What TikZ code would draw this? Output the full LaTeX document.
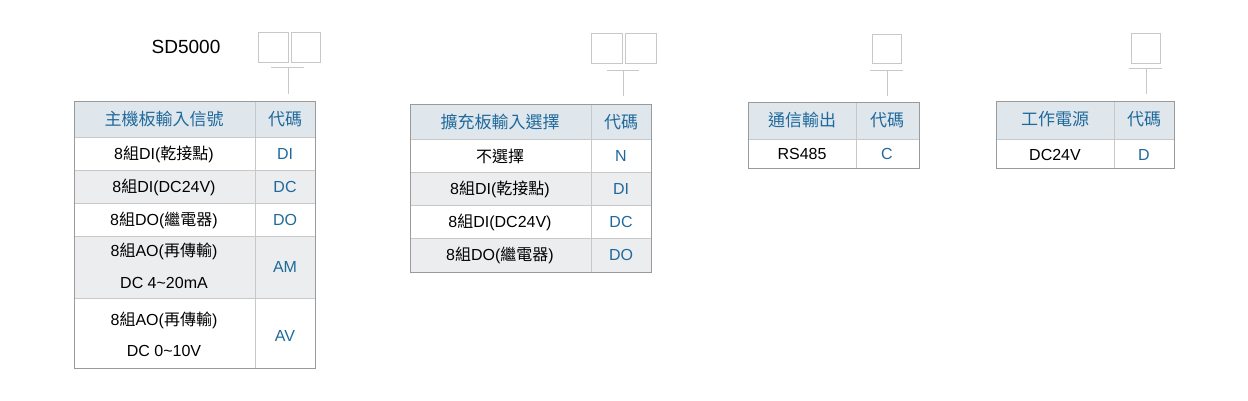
\documentclass[tikz,border=0pt]{standalone}
\usepackage{fontspec}
\setmainfont{Liberation Sans}
\newfontfamily\cjk{Noto Sans CJK TC}
\definecolor{hdr}{HTML}{DFE6EC}
\definecolor{alt}{HTML}{EBEDEF}
\definecolor{bl}{HTML}{1F6A9C}
\definecolor{frame}{HTML}{9A9A9A}
\definecolor{grid}{HTML}{C8C8C8}
\tikzset{
 txt/.style={font=\fontsize{16}{18}\selectfont, text=black, inner sep=0pt},
 htxt/.style={font=\fontsize{17}{19}\selectfont\cjk, text=bl, inner sep=0pt},
 code/.style={font=\fontsize{16}{18}\selectfont, text=bl, inner sep=0pt},
 box/.style={draw=grid, line width=1pt},
 tee/.style={draw=grid, line width=1pt},
 outer/.style={draw=frame, line width=1pt},
 inner/.style={draw=grid, line width=0.8pt},
}
\newcommand{\C}[1]{{\cjk #1}}
\begin{document}
\begin{tikzpicture}[x=1pt,y=-1pt]
\useasboundingbox (0,0) rectangle (1248,400);
% ---- group 1 ----
\node[font=\fontsize{19}{21}\selectfont, inner sep=0pt] (sd) at (186,47) {SD5000};
\draw[box] (258,32) rectangle (288,62);
\draw[box] (291,32) rectangle (320,62);
\draw[tee] (271,67) -- (304,67);
\draw[tee] (288,67) -- (288,94);
\fill[hdr] (74,101) rectangle (315,137);
\fill[alt] (74,170) rectangle (315,203);
\fill[alt] (74,236) rectangle (315,298);
\draw[inner] (74,137) -- (315,137) (74,170) -- (315,170) (74,203) -- (315,203) (74,236) -- (315,236) (74,298) -- (315,298) (255,101) -- (255,368);
\draw[outer] (74,101) rectangle (315,368);
\node[htxt] (a0) at (164,119) {主機板輸入信號};
\node[htxt] (a0c) at (285,119) {代碼};
\node[txt] (a1) at (164,154) {8\C{組}DI(\C{乾接點})};
\node[code] (a1c) at (285,154) {DI};
\node[txt] (a2) at (164,187) {8\C{組}DI(DC24V)};
\node[code] (a2c) at (285,187) {DC};
\node[txt] (a3) at (164,220) {8\C{組}DO(\C{繼電器})};
\node[code] (a3c) at (285,220) {DO};
\node[txt] (a4) at (164,251) {8\C{組}AO(\C{再傳輸})};
\node[txt] (a4b) at (164,283) {DC 4\textasciitilde20mA};
\node[code] (a4c) at (285,267) {AM};
\node[txt] (a5) at (164,320) {8\C{組}AO(\C{再傳輸})};
\node[txt] (a5b) at (164,351) {DC 0\textasciitilde10V};
\node[code] (a5c) at (285,336) {AV};
% ---- group 2 ----
\draw[box] (591,33) rectangle (622,63);
\draw[box] (625,33) rectangle (656,63);
\draw[tee] (607,70) -- (639,70);
\draw[tee] (623,70) -- (623,96);
\fill[hdr] (410,104) rectangle (651,139);
\fill[alt] (410,172) rectangle (651,205);
\fill[alt] (410,238) rectangle (651,272);
\draw[inner] (410,139) -- (651,139) (410,172) -- (651,172) (410,205) -- (651,205) (410,238) -- (651,238) (591,104) -- (591,272);
\draw[outer] (410,104) rectangle (651,272);
\node[htxt] (b0) at (500,122) {擴充板輸入選擇};
\node[htxt] (b0c) at (621,122) {代碼};
\node[txt] (b1) at (500,156) {\C{不選擇}};
\node[code] (b1c) at (621,156) {N};
\node[txt] (b2) at (500,189) {8\C{組}DI(\C{乾接點})};
\node[code] (b2c) at (621,189) {DI};
\node[txt] (b3) at (500,222) {8\C{組}DI(DC24V)};
\node[code] (b3c) at (621,222) {DC};
\node[txt] (b4) at (500,255) {8\C{組}DO(\C{繼電器})};
\node[code] (b4c) at (621,255) {DO};
% ---- group 3 ----
\draw[box] (872,34) rectangle (901,63);
\draw[tee] (870,70) -- (903,70);
\draw[tee] (887,70) -- (887,96);
\fill[hdr] (748,102) rectangle (919,139);
\draw[inner] (748,139) -- (919,139) (856,102) -- (856,168);
\draw[outer] (748,102) rectangle (919,168);
\node[htxt] (c0) at (802,120) {通信輸出};
\node[htxt] (c0c) at (887,120) {代碼};
\node[txt] (c1) at (802,154) {RS485};
\node[code] (c1c) at (887,154) {C};
% ---- group 4 ----
\draw[box] (1131,33) rectangle (1160,63);
\draw[tee] (1129,68) -- (1162,68);
\draw[tee] (1146,68) -- (1146,94);
\fill[hdr] (996,101) rectangle (1174,139);
\draw[inner] (996,139) -- (1174,139) (1114,101) -- (1114,168);
\draw[outer] (996,101) rectangle (1174,168);
\node[htxt] (d0) at (1055,119) {工作電源};
\node[htxt] (d0c) at (1144,119) {代碼};
\node[txt] (d1) at (1055,155) {DC24V};
\node[code] (d1c) at (1144,155) {D};
\end{tikzpicture}
\end{document}
